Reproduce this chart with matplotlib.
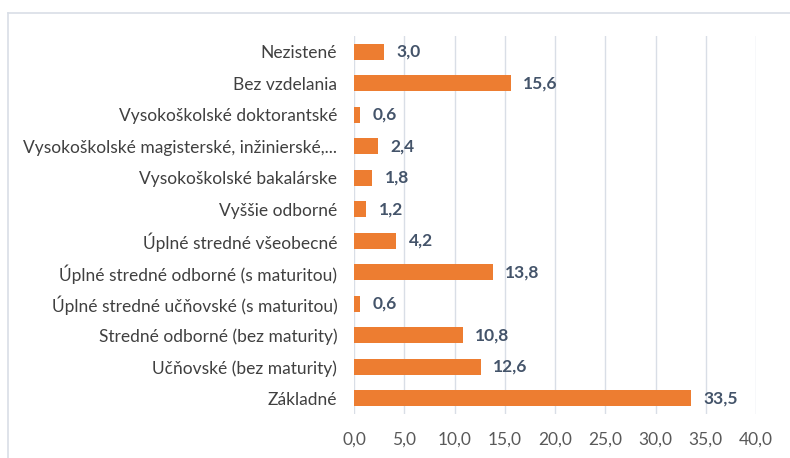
import matplotlib
matplotlib.use("Agg")
import matplotlib.pyplot as plt
from matplotlib.lines import Line2D

categories = ["Základné", "Učňovské (bez maturity)", "Stredné odborné (bez maturity)",
              "Úplné stredné učňovské (s maturitou)", "Úplné stredné odborné (s maturitou)",
              "Úplné stredné všeobecné", "Vyššie odborné", "Vysokoškolské bakalárske",
              "Vysokoškolské magisterské, inžinierské,...", "Vysokoškolské doktorantské",
              "Bez vzdelania", "Nezistené"]
values = [33.5, 12.6, 10.8, 0.6, 13.8, 4.2, 1.2, 1.8, 2.4, 0.6, 15.6, 3.0]
xticks = [0, 5, 10, 15, 20, 25, 30, 35, 40]

plt.rcParams['font.family'] = ['Lato', 'DejaVu Sans']
W, H = 790, 458
fig = plt.figure(figsize=(W/100, H/100), dpi=100)
ax = fig.add_axes([354/W, 1-414/H, (756-354)/W, (414-36)/H])

ypos = list(range(len(categories)))
ax.barh(ypos, values, height=0.51, color="#ED7D31", zorder=3)
for y, v in zip(ypos, values):
    ax.text(v + 1.25, y, f"{v:.1f}".replace(".", ","), va="center", ha="left",
            fontsize=12.5, fontweight="bold", color="#44546A")

ax.set_xlim(0, 40)
ax.set_ylim(-0.5, len(categories) - 0.5)
ax.set_yticks(ypos)
ax.set_yticklabels(categories, fontsize=12.5, color="#404040")
ax.set_xticks(xticks)
ax.set_xticklabels([f"{t:.1f}".replace(".", ",") for t in xticks], fontsize=12.5, color="#595959")
ax.tick_params(axis="both", length=0)
ax.tick_params(axis="y", pad=12)
ax.tick_params(axis="x", pad=13)
ax.grid(axis="x", color="#D9DEE6", linewidth=1, zorder=0)
for s in ax.spines.values():
    s.set_visible(False)

# outer chart border (top and left visible)
fig.add_artist(Line2D([8/W, 1], [1-13/H, 1-13/H], transform=fig.transFigure, color="#D9DEE6", lw=1.2))
fig.add_artist(Line2D([8/W, 8/W], [0, 1-13/H], transform=fig.transFigure, color="#D9DEE6", lw=1.2))

fig.savefig("out.png", dpi=100)
